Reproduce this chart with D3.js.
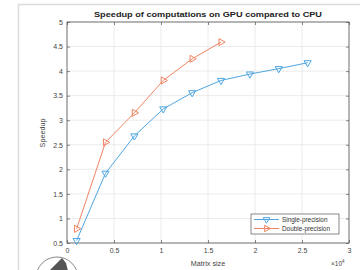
<!DOCTYPE html>
<html><head><meta charset="utf-8">
<script src="https://cdn.jsdelivr.net/npm/d3@7"></script>
<style>body{margin:0;background:#fff}svg{display:block}</style>
</head><body>
<script>
const matrixSize = [1024, 4096, 7168, 10240, 13312, 16384, 19456, 22528, 25600];
const singleSpeedup = [0.55, 1.92, 2.68, 3.23, 3.56, 3.81, 3.94, 4.05, 4.17];
const doubleSpeedup = [0.79, 2.55, 3.15, 3.81, 4.25, 4.59];
const xTicks = [0, 0.5, 1, 1.5, 2, 2.5, 3];
const yTicks = [0.5, 1, 1.5, 2, 2.5, 3, 3.5, 4, 4.5, 5];
const seriesNames = ["Single-precision", "Double-precision"];
const titleText = "Speedup of computations on GPU compared to CPU";

const W = 360, H = 270;
const svg = d3.select("body").append("svg").attr("width", W).attr("height", H);
const font = "Liberation Sans, Arial, sans-serif";

// figure frame
svg.append("rect").attr("x", 18.5).attr("y", 4.5).attr("width", 400).attr("height", 400)
  .attr("fill", "none").attr("stroke", "#dcdcdc").attr("stroke-width", 1.5);

const L = 67, R = 349, T = 22, B = 243;
const x = d3.scaleLinear().domain([0, 3]).range([L, R]);
const y = d3.scaleLinear().domain([0.5, 5]).range([B, T]);

// grid
svg.append("g").selectAll("line").data(xTicks).join("line")
  .attr("x1", d => x(d)).attr("x2", d => x(d)).attr("y1", T).attr("y2", B)
  .attr("stroke", "#e6e6e6").attr("stroke-width", 0.8);
svg.append("g").selectAll("line").data(yTicks).join("line")
  .attr("y1", d => y(d)).attr("y2", d => y(d)).attr("x1", L).attr("x2", R)
  .attr("stroke", "#e6e6e6").attr("stroke-width", 0.8);

// axes
const tickStyle = g => {
  g.select(".domain").remove();
  g.selectAll(".tick line").attr("stroke", "#555").attr("stroke-width", 0.7);
  g.selectAll(".tick text").attr("fill", "#444").attr("font-family", font).attr("font-size", 7);
};
svg.append("g").attr("transform", `translate(0,${B})`)
  .call(d3.axisBottom(x).tickValues(xTicks).tickSizeInner(-3).tickSizeOuter(0).tickPadding(5)
    .tickFormat(d3.format("~g"))).call(tickStyle);
svg.append("g").attr("transform", `translate(0,${T})`)
  .call(d3.axisTop(x).tickValues(xTicks).tickSizeInner(-3).tickSizeOuter(0).tickFormat(""))
  .call(tickStyle);
svg.append("g").attr("transform", `translate(${L},0)`)
  .call(d3.axisLeft(y).tickValues(yTicks).tickSizeInner(-3).tickSizeOuter(0).tickPadding(4)
    .tickFormat(d3.format("~g"))).call(tickStyle);
svg.append("g").attr("transform", `translate(${R},0)`)
  .call(d3.axisRight(y).tickValues(yTicks).tickSizeInner(-3).tickSizeOuter(0).tickFormat(""))
  .call(tickStyle);
svg.append("rect").attr("x", L).attr("y", T).attr("width", R - L).attr("height", B - T)
  .attr("fill", "none").attr("stroke", "#555").attr("stroke-width", 0.8);

const blue = "#4fa6e0", orange = "#ef8464";
const line = d3.line().x(d => x(d[0] / 1e4)).y(d => y(d[1]));
const sData = matrixSize.map((m, i) => [m, singleSpeedup[i]]);
const dData = doubleSpeedup.map((v, i) => [matrixSize[i], v]);

const tri = d3.symbol().type(d3.symbolTriangle).size(22);
svg.append("path").datum(sData).attr("d", line).attr("fill", "none").attr("stroke", blue).attr("stroke-width", 1);
svg.append("path").datum(dData).attr("d", line).attr("fill", "none").attr("stroke", orange).attr("stroke-width", 1);
svg.append("g").selectAll("path").data(sData).join("path")
  .attr("d", tri).attr("transform", d => `translate(${x(d[0] / 1e4)},${y(d[1])}) rotate(180)`)
  .attr("fill", "none").attr("stroke", blue).attr("stroke-width", 1);
svg.append("g").selectAll("path").data(dData).join("path")
  .attr("d", tri).attr("transform", d => `translate(${x(d[0] / 1e4)},${y(d[1])}) rotate(90)`)
  .attr("fill", "none").attr("stroke", orange).attr("stroke-width", 1);

// title & labels
svg.append("text").attr("x", 208).attr("y", 16.5).attr("text-anchor", "middle")
  .attr("font-family", font).attr("font-weight", "bold").attr("font-size", 7.8).attr("fill", "#222")
  .attr("textLength", 228).attr("lengthAdjust", "spacingAndGlyphs")
  .text(titleText);
svg.append("text").attr("x", 208).attr("y", 266).attr("text-anchor", "middle")
  .attr("font-family", font).attr("font-size", 7.2).attr("fill", "#444").text("Matrix size");
svg.append("text").attr("transform", "translate(45,133) rotate(-90)").attr("text-anchor", "middle")
  .attr("font-family", font).attr("font-size", 7.2).attr("fill", "#444").text("Speedup");
const ex = svg.append("text").attr("x", 331).attr("y", 266)
  .attr("font-family", font).attr("font-size", 6.5).attr("fill", "#444");
ex.append("tspan").text("\u00d710");
ex.append("tspan").attr("dy", -3).attr("font-size", 4.5).text("4");

// legend
const lg = svg.append("g").attr("transform", "translate(251,214)");
lg.append("rect").attr("width", 88).attr("height", 20).attr("fill", "#fff").attr("stroke", "#555").attr("stroke-width", 0.7);
[[blue, 180], [orange, 90]].forEach((c, i) => {
  const yy = 5.5 + i * 9;
  lg.append("line").attr("x1", 3).attr("x2", 28).attr("y1", yy).attr("y2", yy).attr("stroke", c[0]).attr("stroke-width", 1);
  lg.append("path").attr("d", d3.symbol().type(d3.symbolTriangle).size(18))
    .attr("transform", `translate(15.5,${yy}) rotate(${c[1]})`).attr("fill", "none").attr("stroke", c[0]).attr("stroke-width", 1);
  lg.append("text").attr("x", 31).attr("y", yy + 2.2).attr("font-family", font).attr("font-size", 6.4)
    .attr("fill", "#333").text(seriesNames[i]);
});

// corner icon
svg.append("circle").attr("cx", 57).attr("cy", 278).attr("r", 21).attr("fill", "#fff").attr("stroke", "#888").attr("stroke-width", 1);
svg.append("path").attr("d", "M49,271 L57,263 L62,258 L66,263 L68,271 Z").attr("fill", "#555");
</script>
</body></html>
